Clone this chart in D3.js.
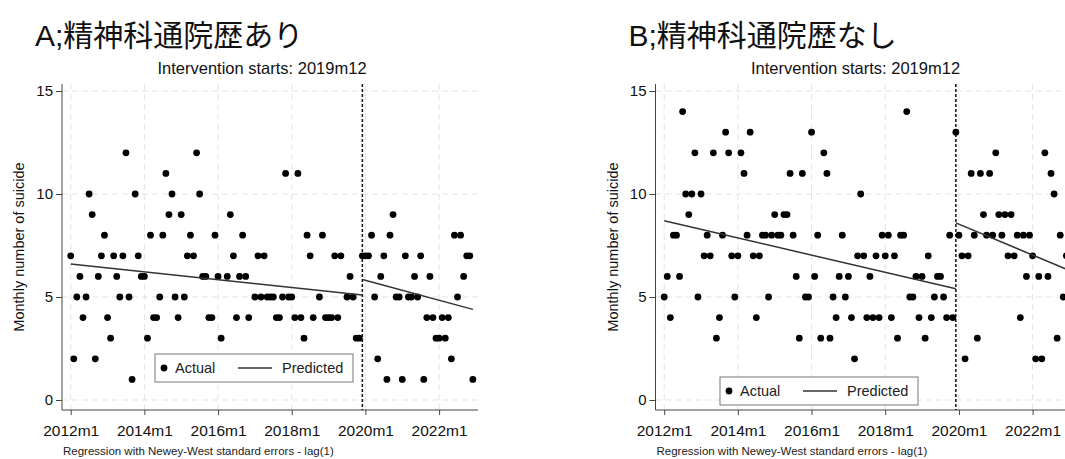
<!DOCTYPE html>
<html>
<head>
<meta charset="utf-8">
<script src="https://cdn.jsdelivr.net/npm/d3@7"></script>
<style>
  body { margin: 0; background: #fff; }
  svg { display: block; font-family: "Liberation Sans", Arial, sans-serif; }
</style>
</head>
<body>
<div id="chart"></div>
<script>
// x ticks (month index from 2012m1) and their Stata-style labels
const xTickMonths = [0, 24, 48, 72, 96, 120];
const xTickLabels = ["2012m1", "2014m1", "2016m1", "2018m1", "2020m1", "2022m1"];
const yTicks = [0, 5, 10, 15];
const interventionMonth = 95; // 2019m12

// monthly suicides, 2012m1 .. 2022m12 (132 months)
const actualA = [
  7, 2, 5, 6, 4, 5, 10, 9, 2, 6, 7, 8, 4, 3, 7, 6, 5, 7, 12, 5, 1, 10, 7, 6, 6, 3, 8, 4, 4, 5, 8, 11, 9, 10, 5, 4, 9, 5, 7, 8, 7,
  12, 10, 6, 6, 4, 4, 8, 6, 3, 2, 6, 9, 7, 4, 6, 8, 6, 4,
  2,
  5, 7, 5, 7, 5, 5, 5, 4, 4, 5, 11, 5, 5, 4, 11, 4, 3,
  8, 7, 4, 2, 5, 8, 4, 4, 4, 7, 4, 7, 2, 5, 6, 5, 3, 3, 7,
  7, 7, 8, 5, 2, 6, 7, 1, 8, 9, 5, 5,
  1, 7, 5, 5, 6, 5, 7, 1, 4, 6, 4, 3, 3, 4, 3, 4, 2, 8, 5, 8, 6, 7, 7, 1
];
const actualB = [
  5, 6, 4, 8, 8, 6, 14, 10, 9, 10, 12, 5, 10,
  7, 8, 7, 12, 3, 4, 8, 13, 12, 7, 5, 7, 12, 11, 8, 13, 7, 4, 7,
  8, 8, 5, 8, 9, 8, 8, 9, 9, 11, 8, 6,
  3, 11, 5, 5, 13, 6, 8, 3, 12, 11, 3, 5, 4, 6, 8, 5, 6, 4, 2, 7, 10, 7, 4, 6, 4, 7, 4,
  8, 7, 8, 4, 7, 3, 8, 8, 14, 5, 5, 6, 4, 6, 3, 7, 4, 5, 6,
  6, 5, 4, 8, 4, 13,
  8, 7, 2, 7, 11, 8, 3, 11, 9, 8, 11, 8, 12, 9, 8, 9, 7, 9, 7, 8, 4, 8, 6, 8, 7, 2, 6, 2, 12, 6, 11, 10, 3, 8, 5, 7
];

// fitted segments (pre / post intervention): [month, value] end points
const predictedA = [[[0, 6.6], [95, 5.1]], [[95, 5.85], [131, 4.4]]];
const predictedB = [[[0, 8.7], [95, 5.4]], [[95, 8.6], [131, 6.35]]];

const width = 1065, height = 459;

const svg = d3.select("#chart").append("svg")
    .attr("width", width)
    .attr("height", height)
    .attr("viewBox", [0, 0, width, height]);

svg.append("rect").attr("width", width).attr("height", height).attr("fill", "#fff");

function Panel(svg, {
  left = 0,           // horizontal offset of the whole panel
  title,              // big Japanese title
  actual,             // monthly values
  predicted,          // fitted segments
  legendX = 155,      // legend box, panel coords
  legendY = 354,
  axisX = 62,         // y-axis line position
  plotTop = 84,
  plotBottom = 410,
  plotRight = 478,
} = {}) {
  const g = svg.append("g").attr("transform", `translate(${left},0)`);

  const x = d3.scaleLinear([0, 131], [70.7, 70.7 + 131 * 3.07]);
  const y = d3.scaleLinear([0, 15], [400, 91]);

  // titles
  g.append("text")
      .attr("x", 35)
      .attr("y", 46)
      .attr("font-size", 30)
      .attr("font-family", "'Liberation Sans', 'Noto Sans CJK JP', sans-serif")
      .attr("fill", "#111")
      .text(title);

  g.append("text")
      .attr("x", 262)
      .attr("y", 74)
      .attr("text-anchor", "middle")
      .attr("font-size", 16.5)
      .attr("fill", "#111")
      .text("Intervention starts: 2019m12");

  // grid
  g.append("g")
      .attr("stroke", "#e3e3e3")
      .attr("stroke-dasharray", "6,4")
    .selectAll("line.h")
    .data(yTicks)
    .join("line")
      .attr("x1", axisX)
      .attr("x2", plotRight)
      .attr("y1", d => y(d))
      .attr("y2", d => y(d));

  g.append("g")
      .attr("stroke", "#e3e3e3")
      .attr("stroke-dasharray", "6,4")
    .selectAll("line.v")
    .data(xTickMonths)
    .join("line")
      .attr("x1", d => x(d))
      .attr("x2", d => x(d))
      .attr("y1", plotTop)
      .attr("y2", plotBottom);

  // y axis
  g.append("g")
      .attr("transform", `translate(${axisX},0)`)
      .call(d3.axisLeft(y).tickValues(yTicks).tickSize(6).tickPadding(3))
      .call(a => a.select(".domain").remove())
      .call(a => a.selectAll(".tick line").attr("stroke", "#444"))
      .call(a => a.selectAll(".tick text").attr("font-size", 15).attr("fill", "#111"));

  g.append("line")
      .attr("x1", axisX).attr("x2", axisX)
      .attr("y1", plotTop).attr("y2", plotBottom)
      .attr("stroke", "#444");

  // x axis
  g.append("g")
      .attr("transform", `translate(0,${plotBottom})`)
      .call(d3.axisBottom(x).tickValues(xTickMonths)
          .tickFormat((d, i) => xTickLabels[i])
          .tickSize(5).tickPadding(10))
      .call(a => a.select(".domain").remove())
      .call(a => a.selectAll(".tick line").attr("stroke", "#444"))
      .call(a => a.selectAll(".tick text").attr("font-size", 15.5).attr("fill", "#111"));

  g.append("line")
      .attr("x1", axisX).attr("x2", plotRight)
      .attr("y1", plotBottom).attr("y2", plotBottom)
      .attr("stroke", "#444");

  g.append("text")
      .attr("transform", `translate(19,${(plotTop + plotBottom) / 2}) rotate(-90)`)
      .attr("dy", "0.35em")
      .attr("text-anchor", "middle")
      .attr("font-size", 14.5)
      .attr("fill", "#111")
      .text("Monthly number of suicide");

  // intervention line
  g.append("line")
      .attr("x1", x(interventionMonth)).attr("x2", x(interventionMonth))
      .attr("y1", plotTop).attr("y2", plotBottom)
      .attr("stroke", "#111")
      .attr("stroke-width", 1.5)
      .attr("stroke-dasharray", "3,2");

  // actual points
  g.append("g")
      .attr("fill", "#000")
    .selectAll("circle")
    .data(actual)
    .join("circle")
      .attr("cx", (d, i) => x(i))
      .attr("cy", d => y(d))
      .attr("r", 3.4);

  // predicted segments
  const line = d3.line().x(d => x(d[0])).y(d => y(d[1]));
  g.append("g")
    .selectAll("path")
    .data(predicted)
    .join("path")
      .attr("d", line)
      .attr("fill", "none")
      .attr("stroke", "#333")
      .attr("stroke-width", 1.5);

  // legend (drawn over the points, like Stata)
  const lg = g.append("g").attr("transform", `translate(${legendX},${legendY})`);
  lg.append("rect")
      .attr("width", 198)
      .attr("height", 28)
      .attr("fill", "#fff")
      .attr("stroke", "#777");
  lg.append("circle").attr("cx", 9).attr("cy", 14).attr("r", 3.4).attr("fill", "#000");
  lg.append("text").attr("x", 20).attr("y", 14).attr("dy", "0.35em")
      .attr("font-size", 14.5).attr("fill", "#222").text("Actual");
  lg.append("line").attr("x1", 83).attr("x2", 117).attr("y1", 14).attr("y2", 14)
      .attr("stroke", "#333").attr("stroke-width", 1.5);
  lg.append("text").attr("x", 127).attr("y", 14).attr("dy", "0.35em")
      .attr("font-size", 14.5).attr("fill", "#222").text("Predicted");

  // note
  g.append("text")
      .attr("x", 63)
      .attr("y", 455)
      .attr("font-size", 11.5)
      .attr("fill", "#222")
      .text("Regression with Newey-West standard errors - lag(1)");
}

Panel(svg, {
  left: 0,
  title: "A;精神科通院歴あり",
  actual: actualA,
  predicted: predictedA,
  legendX: 155,
  legendY: 354
});

Panel(svg, {
  left: 593.5,
  title: "B;精神科通院歴なし",
  actual: actualB,
  predicted: predictedB,
  legendX: 126.5,
  legendY: 377
});
</script>
</body>
</html>
